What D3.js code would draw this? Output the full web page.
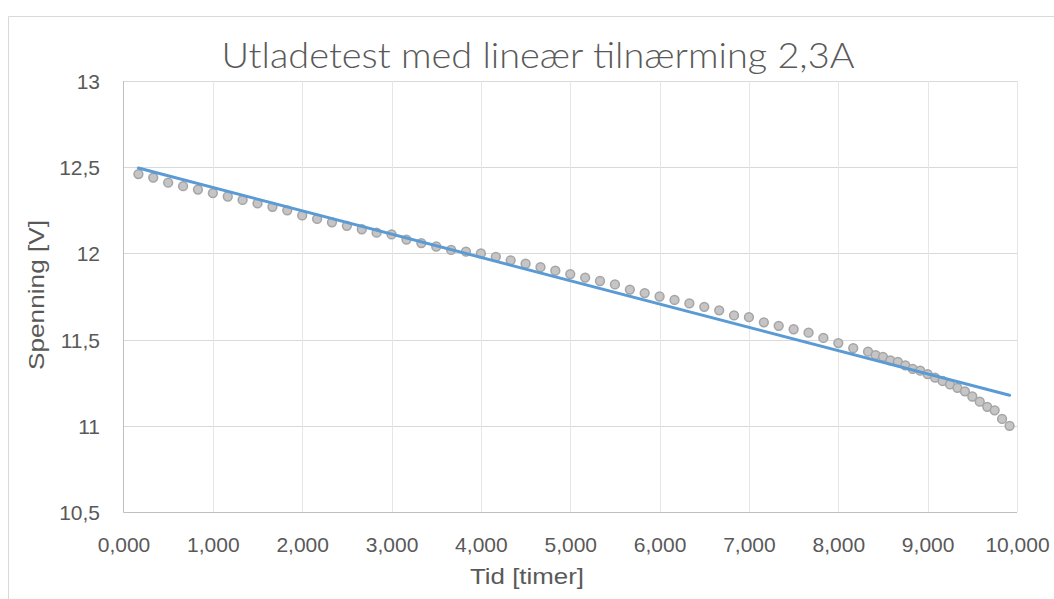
<!DOCTYPE html>
<html>
<head>
<meta charset="utf-8">
<script src="https://cdn.jsdelivr.net/npm/d3@7"></script>
<style>
  html, body { margin: 0; padding: 0; background: #fff; }
  svg { display: block; font-family: "Liberation Sans", Arial, sans-serif; }
</style>
</head>
<body>
<svg id="chart" width="1054" height="599"></svg>
<script>
// Discharge test at 2.3 A: elapsed time (hours) and terminal voltage (V)
const hours = [
  0.167, 0.333, 0.5, 0.667, 0.833, 1.0, 1.167, 1.333, 1.5, 1.667,
  1.833, 2.0, 2.167, 2.333, 2.5, 2.667, 2.833, 3.0, 3.167, 3.333,
  3.5, 3.667, 3.833, 4.0, 4.167, 4.333, 4.5, 4.667, 4.833, 5.0,
  5.167, 5.333, 5.5, 5.667, 5.833, 6.0, 6.167, 6.333, 6.5, 6.667,
  6.833, 7.0, 7.167, 7.333, 7.5, 7.667, 7.833, 8.0, 8.167, 8.333,
  8.417, 8.5, 8.583, 8.667, 8.75, 8.833, 8.917, 9.0, 9.083, 9.167,
  9.25, 9.333, 9.417, 9.5, 9.583, 9.667, 9.75, 9.833, 9.917
];
const volts = [
  12.46, 12.44, 12.41, 12.39, 12.37, 12.35, 12.33, 12.31, 12.29, 12.27,
  12.25, 12.22, 12.20, 12.18, 12.16, 12.14, 12.12, 12.11, 12.08, 12.06,
  12.04, 12.02, 12.01, 12.00, 11.98, 11.96, 11.94, 11.92, 11.90, 11.88,
  11.86, 11.84, 11.82, 11.79, 11.77, 11.75, 11.73, 11.71, 11.69, 11.67,
  11.64, 11.63, 11.60, 11.58, 11.56, 11.54, 11.51, 11.48, 11.45, 11.43,
  11.41, 11.40, 11.38, 11.37, 11.35, 11.33, 11.32, 11.30, 11.28, 11.26,
  11.24, 11.22, 11.20, 11.17, 11.14, 11.11, 11.09, 11.04, 11.00
];
const xTicks = [0, 1, 2, 3, 4, 5, 6, 7, 8, 9, 10];
const yTicks = [10.5, 11, 11.5, 12, 12.5, 13];

const titleText = "Utladetest med lineær tilnærming 2,3A";
const xTitle = "Tid [timer]";
const yTitle = "Spenning [V]";

const svg = d3.select("#chart");
const plot = { left: 123.5, right: 1017, top: 81, bottom: 512 };

// Norwegian number formatting: comma as decimal separator
const nb = d3.formatLocale({ decimal: ",", thousands: " ", grouping: [3], currency: ["", " kr"] });
const fmtX = nb.format(".3f");
const fmtY = nb.format("~f");

const x = d3.scaleLinear().domain([0, 10]).range([plot.left, plot.right]);
const y = d3.scaleLinear().domain([10.5, 13]).range([plot.bottom, plot.top]);

// outer chart frame
svg.append("path")
  .attr("d", `M8.5,599 V16.5 H1054`)
  .attr("fill", "none").attr("stroke", "#d9d9d9").attr("stroke-width", 1);

// gridlines
svg.append("g").selectAll("line.h")
  .data(yTicks.filter(v => v > 10.5))
  .join("line")
  .attr("x1", plot.left).attr("x2", plot.right)
  .attr("y1", d => Math.round(y(d)) + 0.5).attr("y2", d => Math.round(y(d)) + 0.5)
  .attr("stroke", "#d9d9d9").attr("stroke-width", 1);
svg.append("g").selectAll("line.v")
  .data(xTicks.filter(v => v > 0))
  .join("line")
  .attr("x1", d => Math.round(x(d)) + 0.5).attr("x2", d => Math.round(x(d)) + 0.5)
  .attr("y1", plot.top).attr("y2", plot.bottom)
  .attr("stroke", "#e6e6e6").attr("stroke-width", 1);

// axis lines
svg.append("line")
  .attr("x1", plot.left).attr("x2", plot.left)
  .attr("y1", plot.top).attr("y2", plot.bottom + 0.5)
  .attr("stroke", "#bfbfbf");
svg.append("line")
  .attr("x1", plot.left).attr("x2", plot.right)
  .attr("y1", plot.bottom + 0.5).attr("y2", plot.bottom + 0.5)
  .attr("stroke", "#bfbfbf");

// tick labels
const xAxis = d3.axisBottom(x).tickValues(xTicks).tickFormat(fmtX).tickSize(0).tickPadding(0);
const gx = svg.append("g").attr("transform", `translate(0,${plot.bottom})`).call(xAxis);
gx.select(".domain").remove();
gx.selectAll("text")
  .attr("y", 40).attr("dy", 0)
  .attr("fill", "#595959").attr("font-size", 21).attr("font-family", "Liberation Sans, Arial, sans-serif");

const yAxis = d3.axisLeft(y).tickValues(yTicks).tickFormat(fmtY).tickSize(0).tickPadding(0);
const gy = svg.append("g").attr("transform", `translate(100,0)`).call(yAxis);
gy.select(".domain").remove();
gy.selectAll("text")
  .attr("x", 0).attr("dy", "0.36em")
  .attr("fill", "#595959").attr("font-size", 21).attr("font-family", "Liberation Sans, Arial, sans-serif");

// least-squares linear trend
const n = hours.length;
const mx = d3.mean(hours), my = d3.mean(volts);
let sxy = 0, sxx = 0;
for (let i = 0; i < n; i++) {
  sxy += (hours[i] - mx) * (volts[i] - my);
  sxx += (hours[i] - mx) ** 2;
}
const slope = sxy / sxx;
const intercept = my - slope * mx;
const tMin = d3.min(hours), tMax = d3.max(hours);

// measured points
const pts = hours.map((h, i) => ({ h, v: volts[i] }));
svg.append("g").selectAll("circle")
  .data(pts)
  .join("circle")
  .attr("cx", d => x(d.h))
  .attr("cy", d => y(d.v))
  .attr("r", 4.4)
  .attr("fill", "#c6c4c4")
  .attr("stroke", "#a5a5a5")
  .attr("stroke-width", 1.5);

// trend line drawn over the points
svg.append("line")
  .attr("x1", x(tMin)).attr("y1", y(intercept + slope * tMin))
  .attr("x2", x(tMax)).attr("y2", y(intercept + slope * tMax))
  .attr("stroke", "#5b9bd5").attr("stroke-width", 3).attr("stroke-linecap", "round");

// titles
svg.append("text")
  .attr("x", 538).attr("y", 68)
  .attr("text-anchor", "middle")
  .attr("font-family", "Lato, 'Liberation Sans', sans-serif")
  .attr("font-weight", 300)
  .attr("font-size", 35).attr("fill", "#595959")
  .attr("textLength", 633).attr("lengthAdjust", "spacingAndGlyphs")
  .text(titleText);

svg.append("text")
  .attr("x", 527).attr("y", 584)
  .attr("text-anchor", "middle")
  .attr("font-size", 22).attr("fill", "#595959")
  .attr("textLength", 114).attr("lengthAdjust", "spacingAndGlyphs")
  .text(xTitle);

svg.append("text")
  .attr("transform", "translate(44,295) rotate(-90)")
  .attr("text-anchor", "middle")
  .attr("font-size", 22).attr("fill", "#595959")
  .attr("textLength", 150).attr("lengthAdjust", "spacingAndGlyphs")
  .text(yTitle);
</script>
</body>
</html>
